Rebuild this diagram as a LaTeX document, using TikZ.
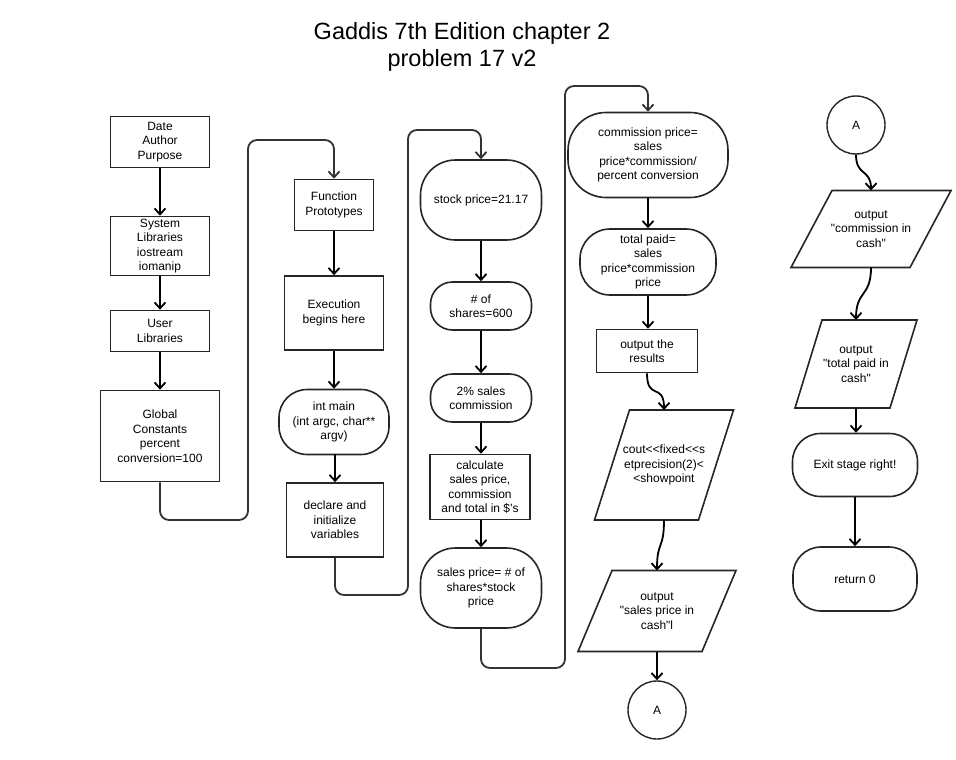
\documentclass[tikz,border=0pt]{standalone}
\usepackage{fontspec}
\setmainfont{Liberation Sans}
\usetikzlibrary{positioning, arrows.meta, calc}

% parallelogram round a text node: name, half edge, half height, half slant
\newcommand{\ioframe}[4]{%
    \draw[ioline] ($(#1)+(-#2+#4,-#3)$) -- ($(#1)+(#2+#4,-#3)$)
        -- ($(#1)+(#2-#4,#3)$) -- ($(#1)+(-#2-#4,#3)$) -- cycle;
    \coordinate (#1-top) at ($(#1)+(0,-#3)$);
    \coordinate (#1-bot) at ($(#1)+(0,#3)$);}

\begin{document}
\begin{tikzpicture}[
            x=1pt, y=-1pt,
            every node/.style = {
                align=center, inner sep=2pt,
                font=\fontsize{12}{14.5}\selectfont
            },
            proc/.style = {shape=rectangle, draw=black!85, line width=1.6pt},
            term/.style = {shape=rectangle, draw=black!85, line width=1.6pt, rounded corners=#1},
            term/.default = 28pt,
            iotext/.style = {inner sep=0pt},
            ioline/.style = {draw=black!85, line width=1.6pt, line join=miter},
            conn/.style = {shape=circle, draw=black!85, line width=1.4pt,
                minimum size=58pt, inner sep=0pt},
            flow/.style = {draw=black, line width=1.8pt,
                -{Straight Barb[length=6pt, width=11pt]}},
            loop/.style = {flow, draw=black!80, rounded corners=9pt}
        ]
        \useasboundingbox[fill=white] (0,0) rectangle (956,760);

        \node[font=\fontsize{23.5}{27}\selectfont] (title) at (462,47)
            {Gaddis 7th Edition chapter 2\\problem 17 v2};

        % first column
        \node[proc, minimum width=99pt, minimum height=51pt] (date) at (160,142) {Date\\Author\\Purpose};
        \node[proc, minimum width=99pt, minimum height=59pt] (syslib) at (160,246) {System\\Libraries\\iostream\\iomanip};
        \node[proc, minimum width=99pt, minimum height=41pt] (userlib) at (160,331) {User\\Libraries};
        \node[proc, minimum width=119pt, minimum height=91pt] (global) at (160,436) {Global\\Constants\\percent\\conversion=100};

        % second column
        \node[proc, minimum width=79pt, minimum height=51pt] (proto) at (334,205) {Function\\Prototypes};
        \node[proc, minimum width=99pt, minimum height=74pt] (exec) at (334,313) {Execution\\begins here};
        \node[term, minimum width=110pt, minimum height=65pt] (intmain) at (334,422) {int main\\(int argc, char**\\argv)};
        \node[proc, minimum width=97pt, minimum height=74pt] (declare) at (335,520) {declare and\\initialize\\variables};

        % third column
        \node[term=35pt, minimum width=121pt, minimum height=80pt] (stock) at (481,200) {stock price=21.17};
        \node[term=22pt, minimum width=101pt, minimum height=48pt] (shares) at (481,306) {\# of\\shares=600};
        \node[term=22pt, minimum width=101pt, minimum height=48pt] (rate) at (481,398) {2\% sales\\commission};
        \node[proc, minimum width=100pt, minimum height=65pt] (calc) at (480,487) {calculate\\sales price,\\commission\\and total in \$'s};
        \node[term=35pt, minimum width=121pt, minimum height=80pt] (sales) at (481,588) {sales price= \# of\\shares*stock\\price};

        % fourth column
        \node[term=38pt, minimum width=160pt, minimum height=85pt] (comm) at (648,155) {commission price=\\sales\\price*commission/\\percent conversion};
        \node[term=30pt, minimum width=136pt, minimum height=66pt] (total) at (648,262) {total paid=\\sales\\price*commission\\price};
        \node[proc, minimum width=101pt, minimum height=43pt] (results) at (647,351) {output the\\results};
        \node[iotext] (cout) at (664,465) {cout<{}<fixed<{}<s\\etprecision(2)<\\<showpoint};
        \ioframe{cout}{52}{55}{17.5}
        \node[iotext] (outsales) at (657,611) {output\\\textquotedbl sales price in\\cash\textquotedbl l};
        \ioframe{outsales}{62}{40.5}{17}
        \node[conn] (conna) at (657,710) {A};

        % fifth column
        \node[conn] (connb) at (856,125) {A};
        \node[iotext] (outcomm) at (871,229) {output\\\textquotedbl commission in\\cash\textquotedbl};
        \ioframe{outcomm}{59.5}{38.5}{20.5}
        \node[iotext] (outtotal) at (856,364) {output\\\textquotedbl total paid in\\cash\textquotedbl};
        \ioframe{outtotal}{47.5}{44}{13.5}
        \node[term, minimum width=125pt, minimum height=63pt] (exit) at (855,465) {Exit stage right!};
        \node[term, minimum width=124pt, minimum height=64pt] (ret) at (855,579) {return 0};

        % connectors
        \draw[flow] (date) -- (syslib);
        \draw[flow] (syslib) -- (userlib);
        \draw[flow] (userlib) -- (global);
        \draw[loop] (global.south) |- (248,520) -- (248,140) -| (proto.north);
        \draw[flow] (proto) -- (exec);
        \draw[flow] (exec) -- (intmain);
        \draw[flow] (intmain.south) -- (intmain.south -| declare.north) -- (declare.north);
        \draw[loop] (declare.south) |- (408,595) -- (408,130) -| (stock.north);
        \draw[flow] (stock) -- (shares);
        \draw[flow] (shares) -- (rate);
        \draw[flow] (rate.south) -- (rate.south |- calc.north);
        \draw[flow] (calc.south -| sales.north) -- (sales.north);
        \draw[loop] (sales.south) |- (565,668) -- (565,86) -| (comm.north);
        \draw[flow] (comm) -- (total);
        \draw[flow] (total.south) -- (total.south |- results.north);
        \draw[flow] (results.south) .. controls +(0,28) and +(0,-28) .. (cout-top);
        \draw[flow] (cout-bot) .. controls +(0,30) and +(0,-30) .. (outsales-top);
        \draw[flow] (outsales-bot) -- (conna);
        \draw[flow] (connb.south) .. controls +(0,22) and +(0,-22) .. (outcomm-top);
        \draw[flow] (outcomm-bot) .. controls +(0,30) and +(0,-30) .. (outtotal-top);
        \draw[flow] (outtotal-bot) -- (exit.north -| outtotal-bot);
        \draw[flow] (exit) -- (ret);
\end{tikzpicture}
\end{document}
